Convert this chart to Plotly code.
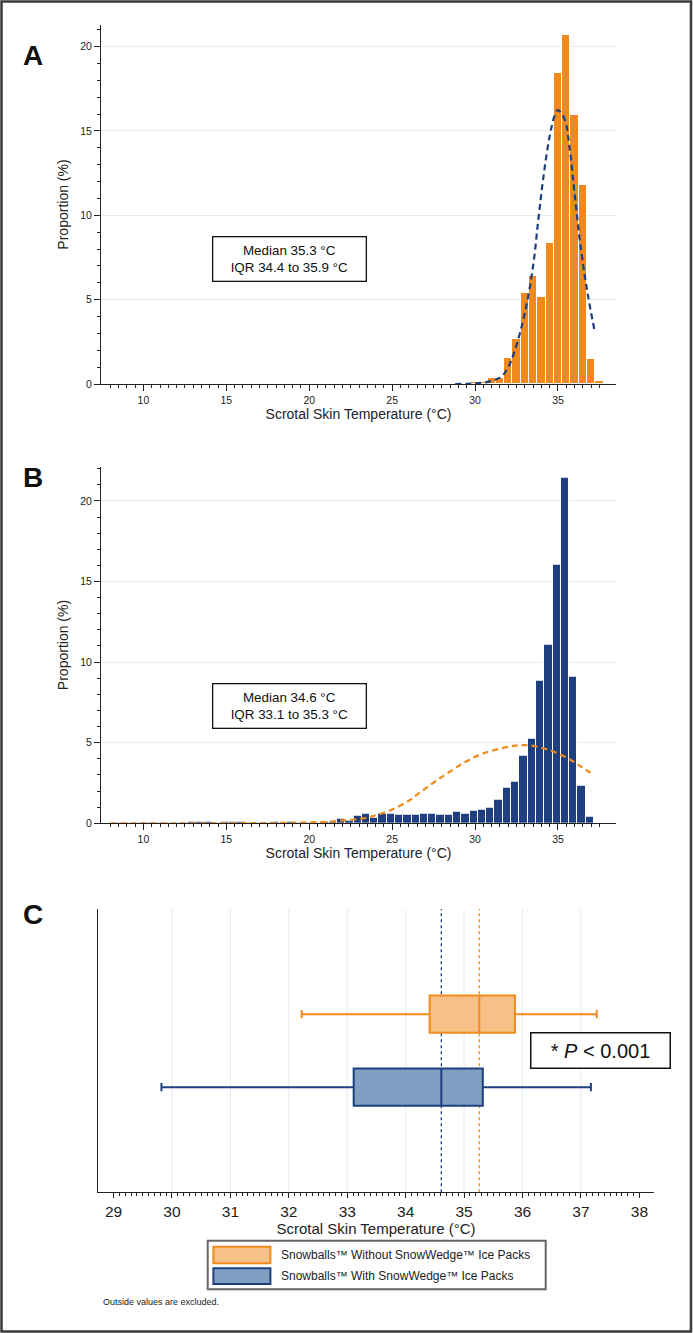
import plotly.graph_objects as go

W, H = 693, 1333
FONT = "Liberation Sans, Arial, Helvetica, sans-serif"

ORANGE = "#F08A1C"
ORANGE_FILL = "#F6C088"
NAVY = "#1E3F7F"
NAVY_FILL = "#809FC2"
GRID = "#E3EBF3"
AX = "#222222"

# ---------------- data ----------------
# Panel A: Snowballs without SnowWedge (bin centres, % per 0.5 °C bin)
a_centers = [29.5, 30.0, 30.5, 31.0, 31.5, 32.0, 32.5, 33.0, 33.5, 34.0,
             34.5, 35.0, 35.5, 36.0, 36.5, 37.0, 37.5]
a_values = [0.04, 0.10, 0.13, 0.37, 0.37, 1.52, 2.65, 5.40, 6.40, 5.18,
            8.38, 18.45, 20.70, 15.92, 11.80, 1.46, 0.20]
# normal-curve overlay for panel A
a_curve_x = [28.8, 29.5, 30.0, 30.5, 31.0, 31.6, 32.0, 32.4, 33.0, 33.5,
             33.8, 34.1, 34.5, 34.8, 35.0, 35.4, 35.7, 36.0, 36.4, 36.8, 37.2]
a_curve_y = [0.0, 0.01, 0.03, 0.08, 0.18, 0.45, 1.0, 2.0, 4.2, 7.0,
             9.6, 12.1, 14.7, 15.9, 16.24, 15.7, 14.0, 11.3, 7.9, 5.3, 3.2]
a_median, a_q1, a_q3 = 35.3, 34.4, 35.9

# Panel B: Snowballs with SnowWedge
b_centers = [8.42, 8.92, 9.42, 9.92, 10.42, 10.92, 11.42, 11.92, 12.42, 12.92,
             13.42, 13.92, 14.42, 14.92, 15.42, 15.92, 16.42, 16.92, 17.42, 17.92,
             18.42, 18.92, 19.42, 19.92, 20.42, 20.92, 21.42, 21.92, 22.42, 22.92,
             23.42, 23.92, 24.42, 24.92, 25.42, 25.92, 26.42, 26.92, 27.42, 27.92,
             28.42, 28.92, 29.42, 29.92, 30.42, 30.92, 31.42, 31.92, 32.42, 32.92,
             33.42, 33.92, 34.42, 34.92, 35.42, 35.92, 36.42, 36.92]
b_values = [0.02, 0.02, 0.03, 0.02, 0.03, 0.02, 0.03, 0.04, 0.04, 0.12,
            0.13, 0.10, 0.06, 0.08, 0.10, 0.10, 0.06, 0.05, 0.04, 0.07,
            0.06, 0.07, 0.05, 0.06, 0.06, 0.08, 0.12, 0.26, 0.18, 0.46,
            0.60, 0.33, 0.62, 0.62, 0.52, 0.52, 0.56, 0.58, 0.58, 0.52,
            0.52, 0.70, 0.62, 0.79, 0.87, 0.99, 1.49, 2.21, 2.58, 4.20,
            5.25, 8.83, 11.06, 16.02, 21.46, 9.10, 2.31, 0.41]
b_curve_x = [8.0, 12.0, 16.0, 18.0, 20.0, 21.2, 22.0, 23.2, 24.0, 25.0, 26.0,
             26.4, 27.0, 27.6, 28.4, 29.4, 30.4, 31.6, 32.4, 33.0, 33.6, 34.6,
             35.6, 36.4, 37.16]
b_curve_y = [0.0, 0.0, 0.01, 0.02, 0.06, 0.10, 0.18, 0.30, 0.50, 0.85, 1.40,
             1.70, 2.15, 2.60, 3.15, 3.80, 4.30, 4.65, 4.82, 4.85, 4.78, 4.50,
             4.03, 3.51, 3.00]
b_median, b_q1, b_q3 = 34.6, 33.1, 35.3

# Panel C: box plots (outside values excluded)
c_groups = ["Snowballs™ Without SnowWedge™ Ice Packs",
            "Snowballs™ With SnowWedge™ Ice Packs"]
c_pos = [2, 1]
c_q1 = [34.41, 33.11]
c_median = [35.26, 34.61]
c_q3 = [35.87, 35.32]
c_lower = [32.22, 29.82]
c_upper = [37.27, 37.17]
c_gridlines = [30, 31, 32, 33, 34, 35, 36, 37]
c_ticks = [29, 30, 31, 32, 33, 34, 35, 36, 37, 38]
p_text = "* <i>P</i> < 0.001"


def px(x):
    return x / W


def py(y):
    return 1 - y / H


fig = go.Figure()

# ---------------- panel A ----------------
fig.add_trace(go.Bar(x=a_centers, y=a_values, width=0.5,
                     marker=dict(color=ORANGE, line=dict(color="white", width=1)),
                     xaxis="x", yaxis="y"))
fig.add_trace(go.Scatter(x=a_curve_x, y=a_curve_y, mode="lines",
                         line=dict(color=NAVY, width=2.2, dash="6px,4px", shape="spline"),
                         xaxis="x", yaxis="y"))

# ---------------- panel B ----------------
fig.add_trace(go.Bar(x=b_centers, y=b_values, width=0.5,
                     marker=dict(color=NAVY, line=dict(color="white", width=1)),
                     xaxis="x2", yaxis="y2"))
fig.add_trace(go.Scatter(x=b_curve_x, y=b_curve_y, mode="lines",
                         line=dict(color=ORANGE, width=2.2, dash="6px,4px", shape="spline"),
                         xaxis="x2", yaxis="y2"))

# ---------------- panel C ----------------
c_lines = [ORANGE, NAVY]
c_fills = [ORANGE_FILL, NAVY_FILL]
for i in range(2):
    fig.add_trace(go.Box(
        y=[c_pos[i]], q1=[c_q1[i]], median=[c_median[i]], q3=[c_q3[i]],
        lowerfence=[c_lower[i]], upperfence=[c_upper[i]],
        orientation="h", width=0.51, whiskerwidth=0.22,
        fillcolor=c_fills[i], line=dict(color=c_lines[i], width=2),
        boxpoints=False, name=c_groups[i], xaxis="x3", yaxis="y3"))

hist_x = dict(
    range=[7.44, 38.5], tickvals=[10, 15, 20, 25, 30, 35],
    showline=True, linecolor=AX, linewidth=1, ticks="outside", ticklen=6,
    tickcolor=AX, tickwidth=1, showgrid=False, zeroline=False,
    tickfont=dict(size=10.5, color=AX),
    minor=dict(tickmode="array", tickvals=[8 + 0.5 * k for k in range(60)],
               ticks="outside", ticklen=3, tickcolor=AX, showgrid=False),
    title=dict(text="Scrotal Skin Temperature (°C)", font=dict(size=14, color=AX), standoff=4),
    automargin=False, fixedrange=True)
hist_y = dict(
    tickvals=[0, 5, 10, 15, 20], showline=True, linecolor=AX, linewidth=1,
    ticks="outside", ticklen=6, tickcolor=AX, showgrid=True, gridcolor=GRID,
    gridwidth=1, zeroline=False, tickfont=dict(size=10.5, color=AX),
    minor=dict(dtick=1, tick0=0, ticks="outside", ticklen=3, tickcolor=AX, showgrid=False),
    title=dict(text="Proportion (%)", font=dict(size=14, color=AX), standoff=8),
    automargin=False, fixedrange=True)

xa = dict(hist_x, domain=[px(101), px(616)], anchor="y")
ya = dict(hist_y, domain=[py(384), py(25)], range=[0, 21.28], anchor="x")
xb = dict(hist_x, domain=[px(101), px(616)], anchor="y2")
yb = dict(hist_y, domain=[py(823.3), py(466.7)], range=[0, 22.12], anchor="x2")

xc = dict(domain=[px(98), px(654)], anchor="y3", range=[28.734, 38.25],
          tickvals=c_ticks, showline=True, linecolor=AX, linewidth=1,
          ticks="outside", ticklen=5, tickcolor=AX, showgrid=False, zeroline=False,
          tickfont=dict(size=15.5, color=AX),
          minor=dict(tickmode="array", tickvals=[29 + 0.1 * k for k in range(91)],
                     ticks="outside", ticklen=3, tickcolor=AX, showgrid=False),
          title=dict(text="Scrotal Skin Temperature (°C)", font=dict(size=15, color=AX), standoff=1),
          automargin=False, fixedrange=True)
yc = dict(domain=[py(1192.3), py(909)], anchor="x3", range=[-0.44, 3.44],
          showline=True, linecolor=AX, linewidth=1, showticklabels=False,
          ticks="", showgrid=False, zeroline=False, automargin=False, fixedrange=True)

shapes = []
# vertical grid lines panel C
for g in c_gridlines:
    shapes.append(dict(type="line", xref="x3", yref="y3 domain", x0=g, x1=g, y0=0, y1=1,
                       line=dict(color=GRID, width=1), layer="below"))
# median dotted lines
for i in range(2):
    shapes.append(dict(type="line", xref="x3", yref="y3 domain", x0=c_median[i], x1=c_median[i],
                       y0=0, y1=1, line=dict(color=c_lines[i], width=1.3, dash="dot"), layer="below"))
# legend frame and swatches
shapes.append(dict(type="rect", xref="paper", yref="paper", x0=px(207.7), x1=px(545.7),
                   y0=py(1289.3), y1=py(1240.7), line=dict(color="#666666", width=2)))
shapes.append(dict(type="rect", xref="paper", yref="paper", x0=px(213.4), x1=px(270.4),
                   y0=py(1263.3), y1=py(1246.7), fillcolor=ORANGE_FILL,
                   line=dict(color=ORANGE, width=2)))
shapes.append(dict(type="rect", xref="paper", yref="paper", x0=px(213.4), x1=px(270.4),
                   y0=py(1284.0), y1=py(1268.3), fillcolor=NAVY_FILL,
                   line=dict(color=NAVY, width=2)))
# outer frame
shapes.append(dict(type="rect", xref="paper", yref="paper", x0=px(1.5), x1=px(691),
                   y0=py(1331.5), y1=py(1.5), line=dict(color="#3a3a3a", width=2.5)))

annotations = []
for lab, yy in [("A", 55), ("B", 477), ("C", 914)]:
    annotations.append(dict(text=f"<b>{lab}</b>", xref="paper", yref="paper",
                            x=px(32.5), y=py(yy), xanchor="center", yanchor="middle",
                            showarrow=False, font=dict(size=28, family=FONT, color="#111")))
for med, q1, q3, cy in [(a_median, a_q1, a_q3, 258.9), (b_median, b_q1, b_q3, 705.8)]:
    annotations.append(dict(text=f"Median {med} °C<br>IQR {q1} to {q3} °C",
                            xref="paper", yref="paper", x=px(289.7), y=py(cy),
                            xanchor="center", yanchor="middle",
                            showarrow=False, width=150, height=41, align="center",
                            bordercolor="#111", borderwidth=1.3, borderpad=1, bgcolor="white",
                            font=dict(size=13.4, color="#111")))
annotations.append(dict(text=p_text, xref="paper", yref="paper", x=px(600), y=py(1050.8),
                        xanchor="center", yanchor="middle",
                        showarrow=False, width=136, height=32, bordercolor="#111",
                        borderwidth=1.5, borderpad=1, bgcolor="white",
                        font=dict(size=20, color="#111")))
for i, yy in enumerate([1255.0, 1276.2]):
    annotations.append(dict(text=c_groups[i], xref="paper", yref="paper", x=px(279.3), y=py(yy),
                            xanchor="left", yanchor="middle", showarrow=False,
                            font=dict(size=12, family=FONT, color="#222")))
annotations.append(dict(text="Outside values are excluded.", xref="paper", yref="paper",
                        x=px(100.8), y=py(1301.7), xanchor="left", yanchor="middle",
                        showarrow=False, font=dict(size=9, family=FONT, color="#222")))

fig.update_layout(
    width=W, height=H, margin=dict(l=0, r=0, t=0, b=0),
    paper_bgcolor="white", plot_bgcolor="white", showlegend=False,
    font=dict(family=FONT, color=AX), bargap=0,
    xaxis=xa, yaxis=ya, xaxis2=xb, yaxis2=yb, xaxis3=xc, yaxis3=yc,
    shapes=shapes, annotations=annotations)

fig.write_html("out.html", config={"displayModeBar": False},
               post_script="document.body.style.margin='0';document.body.style.overflow='hidden';")
